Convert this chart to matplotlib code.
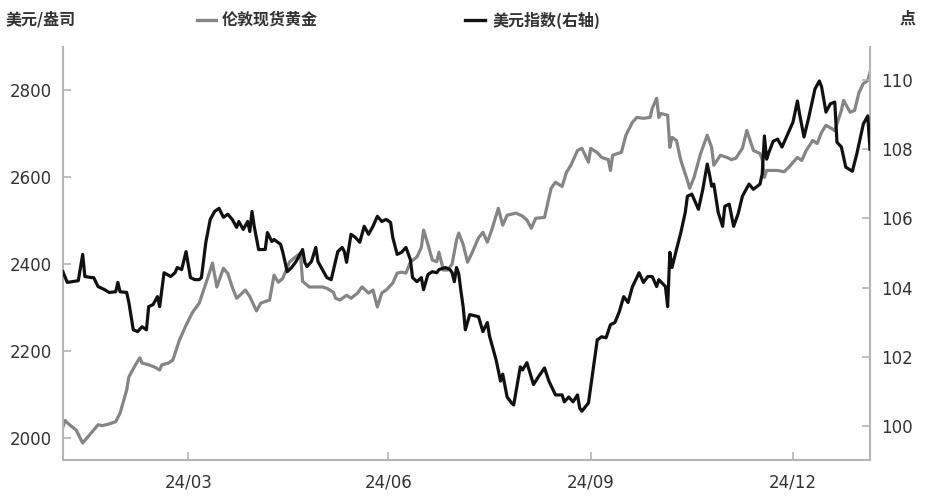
import numpy as np
import matplotlib
matplotlib.use("Agg")
import matplotlib.pyplot as plt
from matplotlib.lines import Line2D

plt.rcParams['font.family'] = ['DejaVu Sans', 'Noto Sans CJK SC']

# ---- data (days since 2024-02-03) ----
start_date = np.datetime64('2024-02-03')

gold_days = [0, 1, 3, 6, 9, 11, 14, 16, 18, 21, 24, 26, 29, 30, 33, 35, 36, 39, 42, 44,
             45, 48, 50, 53, 56, 59, 62, 64, 66, 68, 69, 70, 73, 75, 77, 79, 83, 85, 88, 90,
             94, 96, 98, 100, 103, 105, 108, 109, 112, 118, 120, 123, 124, 126, 129, 131, 134, 136, 139, 141,
             143, 145, 147, 150, 152, 154, 156, 158, 161, 163, 164, 166, 168, 170, 171, 173, 175, 177, 179, 180,
             182, 184, 186, 189, 191, 193, 195, 198, 200, 202, 206, 209, 211, 213, 215, 219, 222, 224, 227, 229,
             231, 234, 236, 239, 240, 243, 245, 248, 249, 250, 254, 256, 259, 261, 264, 267, 268, 270, 271, 272,
             275, 276, 277, 279, 281, 284, 285, 287, 290, 293, 295, 296, 299, 302, 304, 306, 309, 311, 314, 317,
             318, 319, 320, 325, 328, 330, 334, 336, 338, 341, 343, 345, 347, 351, 354, 355, 358, 360, 362, 364,
             366, 367]
gold_price = [2025, 2040, 2030, 2018, 1988, 2000, 2018, 2030, 2028, 2032, 2037, 2057, 2110, 2140, 2168, 2184, 2172, 2168, 2162, 2156,
              2168, 2172, 2179, 2225, 2259, 2289, 2310, 2340, 2370, 2402, 2374, 2347, 2390, 2378, 2347, 2321, 2340, 2325, 2292, 2310,
              2317, 2374, 2358, 2367, 2404, 2413, 2425, 2360, 2347, 2347, 2344, 2335, 2321, 2317, 2328, 2321, 2333, 2347, 2333, 2340,
              2301, 2333, 2340, 2356, 2379, 2381, 2379, 2404, 2416, 2438, 2478, 2445, 2409, 2405, 2427, 2386, 2386, 2400, 2455, 2471,
              2445, 2404, 2425, 2460, 2473, 2450, 2478, 2528, 2489, 2512, 2517, 2510, 2501, 2482, 2505, 2507, 2574, 2588, 2578, 2611,
              2627, 2661, 2666, 2634, 2666, 2656, 2645, 2640, 2615, 2650, 2657, 2696, 2726, 2737, 2735, 2737, 2758, 2781, 2737, 2746,
              2742, 2668, 2691, 2684, 2638, 2592, 2574, 2599, 2654, 2696, 2668, 2627, 2650, 2645, 2640, 2643, 2666, 2707, 2661, 2654,
              2640, 2599, 2615, 2615, 2612, 2622, 2645, 2638, 2661, 2684, 2677, 2703, 2719, 2707, 2753, 2776, 2749, 2753, 2794, 2815,
              2822, 2840]

usd_days = [0, 2, 4, 7, 9, 10, 13, 14, 16, 19, 21, 24, 25, 26, 29, 30, 32, 34, 36, 38,
            39, 41, 43, 44, 46, 49, 51, 52, 54, 56, 58, 60, 62, 63, 65, 67, 69, 71, 73, 75,
            77, 79, 80, 82, 84, 85, 86, 87, 89, 92, 93, 95, 96, 99, 100, 102, 104, 106, 109, 110,
            111, 113, 115, 116, 118, 120, 122, 125, 127, 128, 129, 131, 133, 135, 137, 139, 141, 143, 145, 147,
            149, 150, 152, 154, 156, 158, 159, 161, 163, 164, 166, 168, 170, 171, 174, 176, 177, 178, 179, 180,
            181, 182, 183, 185, 189, 191, 193, 194, 197, 199, 200, 202, 204, 205, 208, 209, 211, 214, 216, 219,
            221, 224, 227, 228, 230, 232, 234, 235, 236, 239, 241, 243, 245, 247, 249, 251, 253, 255, 257, 259,
            261, 262, 264, 266, 268, 270, 271, 274, 275, 276, 277, 279, 281, 283, 284, 286, 288, 289, 291, 293,
            294, 295, 296, 298, 300, 301, 303, 305, 307, 309, 312, 314, 317, 318, 319, 320, 321, 323, 325, 327,
            329, 332, 334, 335, 337, 339, 342, 344, 345, 347, 349, 351, 352, 354, 356, 359, 361, 364, 366, 367]
usd_index = [104.46, 104.15, 104.17, 104.20, 104.96, 104.32, 104.29, 104.29, 104.03, 103.94, 103.86, 103.88, 104.15, 103.88, 103.86, 103.57, 102.78, 102.73, 102.87, 102.78,
             103.45, 103.51, 103.74, 103.45, 104.43, 104.32, 104.43, 104.58, 104.52, 105.04, 104.29, 104.23, 104.23, 104.29, 105.31, 105.97, 106.20, 106.29, 106.03, 106.12,
             105.97, 105.74, 105.91, 105.68, 105.91, 105.62, 106.20, 105.77, 105.10, 105.10, 105.59, 105.33, 105.39, 105.25, 105.02, 104.46, 104.58, 104.75, 105.10, 104.73,
             104.61, 104.75, 105.16, 104.75, 104.52, 104.29, 104.23, 105.04, 105.16, 105.04, 104.73, 105.54, 105.45, 105.31, 105.77, 105.54, 105.77, 106.06, 105.91, 105.97,
             105.88, 105.45, 104.96, 105.02, 105.16, 104.81, 104.29, 104.17, 104.29, 103.94, 104.38, 104.46, 104.43, 104.52, 104.58, 104.52, 104.43, 104.17, 104.58, 104.40,
             103.90, 103.45, 102.78, 103.22, 103.16, 102.73, 102.99, 102.60, 101.91, 101.30, 101.50, 100.84, 100.67, 100.61, 101.71, 101.62, 101.83, 101.20, 101.40, 101.68,
             101.30, 100.90, 100.90, 100.70, 100.84, 100.70, 100.90, 100.52, 100.43, 100.67, 101.57, 102.49, 102.58, 102.55, 102.93, 102.99, 103.30, 103.74, 103.57, 104.03,
             104.29, 104.43, 104.15, 104.32, 104.32, 104.03, 104.23, 104.03, 103.45, 105.02, 104.58, 105.10, 105.59, 106.17, 106.64, 106.70, 106.41, 106.26, 106.84, 107.57,
             107.28, 106.93, 106.99, 106.17, 105.77, 106.35, 106.41, 105.77, 106.12, 106.64, 106.99, 106.84, 106.99, 107.28, 108.38, 107.71, 107.90, 108.23, 108.29, 108.06,
             108.35, 108.78, 109.39, 109.01, 108.35, 108.87, 109.74, 109.97, 109.80, 109.07, 109.31, 109.36, 108.20, 108.06, 107.48, 107.36, 107.86, 108.73, 108.96, 108.00]

tick_dates = ['2024-03-31', '2024-06-30', '2024-09-30', '2024-12-31']
tick_labels = ['24/03', '24/06', '24/09', '24/12']
left_ticks = [2000, 2200, 2400, 2600, 2800]
right_ticks = [100, 102, 104, 106, 108, 110]

gold_label = '伦敦现货黄金'
usd_label = '美元指数(右轴)'
left_unit = '美元/盎司'
right_unit = '点'

# ---- plotting ----
gold_x = start_date + np.array(gold_days).astype('timedelta64[D]')
usd_x = start_date + np.array(usd_days).astype('timedelta64[D]')

GRAY = '#858585'
BLACK = '#111111'
SPINE = '#b5b5b5'
TXT = '#333333'

fig = plt.figure(figsize=(9.25, 4.98), dpi=100)
ax = fig.add_axes([0.068, 0.0763, 0.8725, 0.8293])
ax2 = ax.twinx()

ax.plot(gold_x, gold_price, color=GRAY, lw=2.3, solid_joinstyle='round', zorder=2)
ax2.plot(usd_x, usd_index, color=BLACK, lw=2.3, solid_joinstyle='round', zorder=3)

ax.set_xlim(start_date, np.datetime64('2025-02-04'))
ax.set_ylim(1949, 2899)
ax2.set_ylim(99.02, 110.95)

ax.set_xticks([np.datetime64(d) for d in tick_dates])
ax.set_xticklabels(tick_labels)
ax.set_yticks(left_ticks)
ax2.set_yticks(right_ticks)

for a in (ax, ax2):
    for s in a.spines.values():
        s.set_color(SPINE)
        s.set_linewidth(1.5)
    a.spines['top'].set_visible(False)
ax2.spines['left'].set_visible(False)
ax2.spines['bottom'].set_visible(False)
ax.spines['right'].set_visible(False)

ax.tick_params(axis='both', direction='in', length=6, width=1.2, color=SPINE,
               labelsize=12, labelcolor=TXT)
ax.tick_params(axis='y', pad=8)
ax.tick_params(axis='x', pad=10)
ax2.tick_params(axis='y', direction='in', length=6, width=1.2, color=SPINE,
                labelsize=12, labelcolor=TXT, pad=8)

# units and legend
cjk = ['Noto Sans CJK SC', 'DejaVu Sans']
fig.text(0.006, 0.962, left_unit, family=cjk, fontsize=11.5, color=TXT,
         weight='bold', va='center', ha='left')
fig.text(0.990, 0.962, right_unit, family=cjk, fontsize=11.5, color=TXT,
         weight='bold', va='center', ha='right')

y_leg = 0.960
fig.add_artist(Line2D([0.213, 0.233], [y_leg, y_leg], color=GRAY, lw=2.4))
fig.text(0.240, y_leg, gold_label, family=cjk, fontsize=11.5, color=TXT,
         weight='bold', va='center', ha='left')
fig.add_artist(Line2D([0.503, 0.524], [y_leg, y_leg], color=BLACK, lw=2.4))
fig.text(0.532, y_leg, usd_label, family=cjk, fontsize=11.5, color=TXT,
         weight='bold', va='center', ha='left')

fig.savefig('out.png', dpi=100, facecolor='white')
